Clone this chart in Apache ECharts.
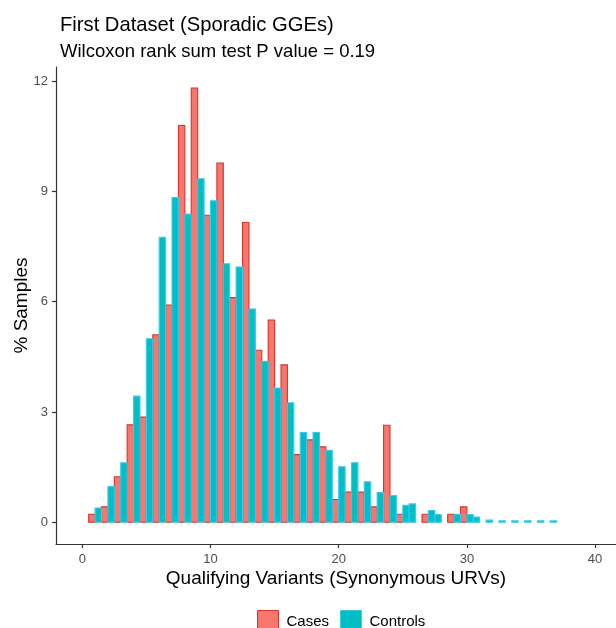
<!DOCTYPE html>
<html>
<head>
<meta charset="utf-8">
<script src="https://cdn.jsdelivr.net/npm/echarts@6/dist/echarts.min.js"></script>
<style>
html,body{margin:0;padding:0;background:#fff;}
#chart{width:616px;height:628px;}
</style>
</head>
<body>
<div id="chart"></div>
<script>
// ---- data ----
const variantCounts = [1,2,3,4,5,6,7,8,9,10,11,12,13,14,15,16,17,18,19,20,21,22,23,24,25,26,27,28,29,30,31,32,33,34,35,36,37];
const casesPct = [0.22,0.42,1.24,2.65,2.86,5.10,5.91,10.79,11.81,8.35,9.77,6.11,8.15,4.68,5.50,4.28,1.84,2.24,2.05,0.62,0.82,0.82,0.42,2.64,0.22,null,0.22,null,0.22,0.42,null,null,null,null,null,null,null];
const controlsPct = [0.39,0.97,1.62,3.43,4.99,7.75,8.83,8.38,9.34,8.74,7.03,6.94,5.80,4.38,3.65,3.25,2.44,2.44,1.96,1.51,1.62,1.10,0.81,0.73,0.46,0.50,0.32,0.21,0.22,0.21,0.14,0.06,0.04,0.04,0.04,0.04,0.04];
const xTicks = [0,10,20,30,40];
const yTicks = [0,3,6,9,12];
const groupNames = ['Cases','Controls'];
const titleText = 'First Dataset (Sporadic GGEs)';
const subtitleText = 'Wilcoxon rank sum test P value = 0.19';
const xTitle = 'Qualifying Variants (Synonymous URVs)';
const yTitle = '% Samples';

// ---- styles ----
const fills = ['#F8766D', '#00BFC4'];
const strokes = ['#D8332A', '#3CC8EE'];
const FONT = 'Liberation Sans, Arial, Helvetica, sans-serif';

// build rows [x, value, slot]; a lone controls bar takes the left slot (ggplot dodge preserve=single)
const casesRows = [];
const controlsRows = [];
variantCounts.forEach((x, i) => {
  if (casesPct[i] != null) casesRows.push([x, casesPct[i], 0]);
  if (controlsPct[i] != null) controlsRows.push([x, controlsPct[i], casesPct[i] != null ? 1 : 0]);
});

function makeRender(k) {
  return function (params, api) {
    const x = api.value(0), v = api.value(1), slot = api.value(2);
    const tl = api.coord([x - 0.5 + slot * 0.5, v]);
    const br = api.coord([x + slot * 0.5, 0]);
    return {
      type: 'rect',
      shape: { x: tl[0], y: tl[1], width: br[0] - tl[0], height: br[1] - tl[1] },
      style: { fill: fills[k], stroke: strokes[k], lineWidth: 1.1 }
    };
  };
}

const chart = echarts.init(document.getElementById('chart'), null, { renderer: 'canvas' });
chart.setOption({
  animation: false,
  backgroundColor: '#fff',
  textStyle: { fontFamily: FONT },
  title: [
    { text: titleText, left: 55, top: 10, textStyle: { fontFamily: FONT, fontSize: 20.2, fontWeight: 'normal', color: '#000' } },
    { text: subtitleText, left: 55, top: 37, textStyle: { fontFamily: FONT, fontSize: 18.5, fontWeight: 'normal', color: '#000' } }
  ],
  legend: {
    top: 610, left: 257, padding: 0,
    itemWidth: 21, itemHeight: 22, itemGap: 11,
    icon: 'rect',
    textStyle: { fontFamily: FONT, fontSize: 15, color: '#000', padding: [3, 0, 0, 3] },
    data: groupNames.map((n, k) => ({ name: n, itemStyle: { color: fills[k], borderColor: strokes[k], borderWidth: 1 } }))
  },
  grid: { left: 56, right: 0, top: 67, bottom: 84, containLabel: false, outerBoundsMode: 'none' },
  xAxis: {
    type: 'value', min: -2.05, max: 41.63,
    name: xTitle, nameLocation: 'middle', nameGap: 25, nameMoveOverlap: false,
    nameTextStyle: { fontFamily: FONT, fontSize: 19, color: '#000' },
    axisLine: { show: true, onZero: false, lineStyle: { color: '#333', width: 1.2 } },
    axisTick: { show: true, length: 4, lineStyle: { color: '#333', width: 1.2 }, customValues: xTicks },
    axisLabel: { show: true, margin: 9, fontFamily: FONT, fontSize: 13, color: '#4D4D4D', customValues: xTicks },
    splitLine: { show: false }
  },
  yAxis: {
    type: 'value', min: -0.59, max: 12.38,
    name: yTitle, nameLocation: 'middle', nameGap: 25, nameMoveOverlap: false,
    nameTextStyle: { fontFamily: FONT, fontSize: 19, color: '#000' },
    axisLine: { show: true, onZero: false, lineStyle: { color: '#333', width: 1.2 } },
    axisTick: { show: true, length: 4, lineStyle: { color: '#333', width: 1.2 }, customValues: yTicks },
    axisLabel: { show: true, margin: 8, fontFamily: FONT, fontSize: 13, color: '#4D4D4D', customValues: yTicks },
    splitLine: { show: false }
  },
  series: [
    { name: groupNames[0], type: 'custom', renderItem: makeRender(0), data: casesRows, encode: { x: 0, y: 1 }, itemStyle: { color: fills[0], borderColor: strokes[0] }, clip: true },
    { name: groupNames[1], type: 'custom', renderItem: makeRender(1), data: controlsRows, encode: { x: 0, y: 1 }, itemStyle: { color: fills[1], borderColor: strokes[1] }, clip: true }
  ]
});
</script>
</body>
</html>
